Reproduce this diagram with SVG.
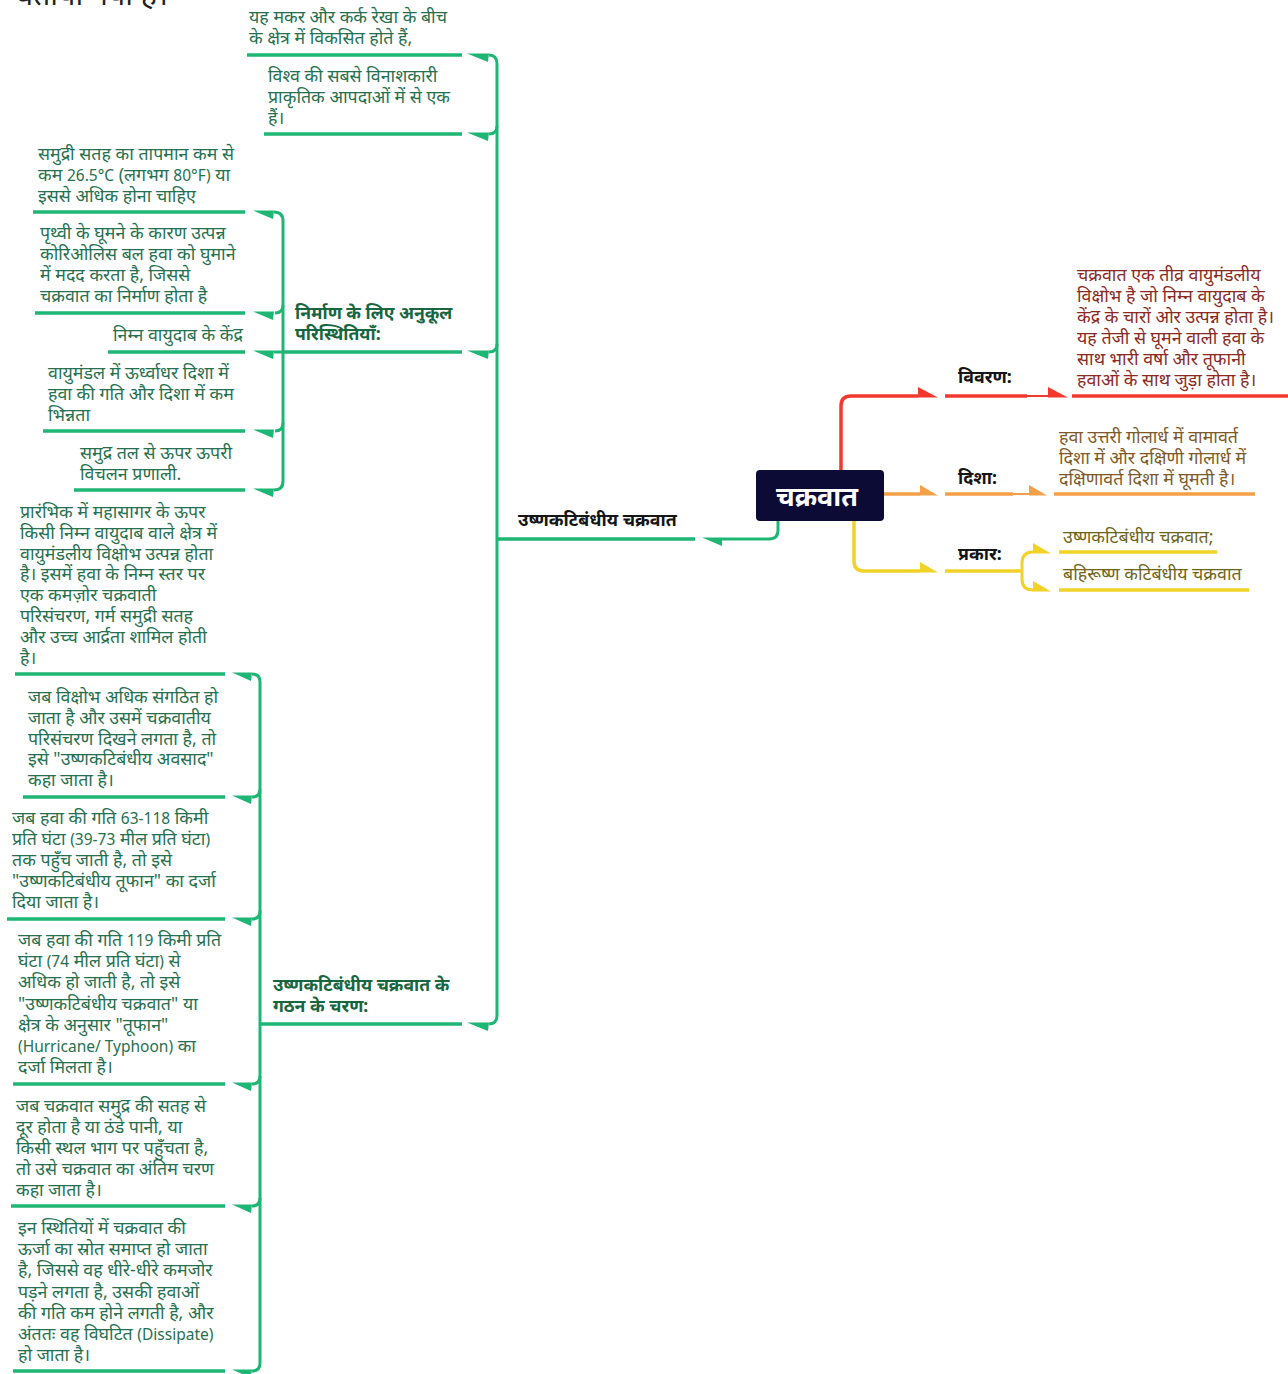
<svg xmlns="http://www.w3.org/2000/svg" width="1288" height="1374" viewBox="0 0 1288 1374">
<style>
text{font-family:"Noto Sans","Noto Sans Devanagari","Lohit Devanagari","FreeSans",sans-serif;font-size:17.8px}
.lat{font-size:15.5px}
.g{fill:#26704f}
.gb{fill:#17663f;font-weight:bold;font-size:17.6px}
.lb{fill:#151515;font-weight:bold;font-size:17.8px}
.rt{fill:#8a2a22}
.ot{fill:#7d5a28}
.yt{fill:#6e6418}
.gl{stroke:#1eb675;stroke-width:3.5;fill:none;stroke-linecap:butt}
.gc{stroke:#1eb675;stroke-width:3;fill:none}
.ga{fill:#1eb675}
.rl{stroke:#f2392f;stroke-width:3.5;fill:none}
.ra{fill:#f2392f}
.ol{stroke:#f4a048;stroke-width:3.5;fill:none}
.oa{fill:#f4a048}
.yl{stroke:#f1d226;stroke-width:3.5;fill:none}
.ya{fill:#f1d226}
</style>
<text x="16" y="5" style="font-size:30px;fill:#222">बताया गया है।</text>
<g id="connectors">
<path class="gc" d="M778 521 L778 530 Q778 539 769 539 L722 539"/>
<polygon class="ga" points="702,537.5 722,537.5 722,546"/>
<path class="gc" d="M489 55 Q497 55 497 64 L497 1015 Q497 1024 489 1024"/>
<path class="gc" d="M497 126 Q497 134 489 134"/>
<path class="gc" d="M497 344 Q497 352 489 352"/>
<polygon class="ga" points="467,53.5 489,53.5 488,62"/>
<polygon class="ga" points="467,132.5 489,132.5 488,141"/>
<polygon class="ga" points="467,350.5 489,350.5 488,359"/>
<polygon class="ga" points="467,1022.5 489,1022.5 488,1031"/>
<path class="gc" d="M274 212 Q283 212 283 221 L283 481 Q283 490 274 490"/>
<path class="gc" d="M283 305 Q283 313 275 313"/>
<path class="gc" d="M283 423 Q283 431 275 431"/>
<path class="gc" d="M274 352 L283 352"/>
<polygon class="ga" points="253,210.5 274,210.5 273,219"/>
<polygon class="ga" points="253,311.5 274,311.5 273,320"/>
<polygon class="ga" points="253,350.5 274,350.5 273,359"/>
<polygon class="ga" points="253,429.5 274,429.5 273,438"/>
<polygon class="ga" points="253,488.5 274,488.5 273,497"/>
<path class="gc" d="M252 674 Q260 674 260 682 L260 1363 Q260 1371 252 1371"/>
<path class="gc" d="M260 789 Q260 797 252 797"/>
<path class="gc" d="M260 911 Q260 919 252 919"/>
<path class="gc" d="M260 1076 Q260 1084 252 1084"/>
<path class="gc" d="M260 1198 Q260 1206 252 1206"/>
<polygon class="ga" points="232,672.5 252,672.5 251,681"/>
<polygon class="ga" points="232,795.5 252,795.5 251,804"/>
<polygon class="ga" points="232,917.5 252,917.5 251,926"/>
<polygon class="ga" points="232,1082.5 252,1082.5 251,1091"/>
<polygon class="ga" points="232,1204.5 252,1204.5 251,1213"/>
<polygon class="ga" points="232,1369.5 252,1369.5 251,1378"/>
<path class="rl" d="M841 470 L841 406 Q841 396 851 396 L918 396"/>
<polygon class="ra" points="918,387 938,397.5 918,397.5"/>
<path class="rl" d="M1027 396 L1048 396" style="stroke-width:2"/>
<polygon class="ra" points="1048,387 1068,397.5 1048,397.5"/>
<path class="ol" d="M884 494 L920 494"/>
<polygon class="oa" points="920,485 938,495.5 920,495.5"/>
<path class="ol" d="M1013 494 L1029 494" style="stroke-width:2"/>
<polygon class="oa" points="1029,485 1047,495.5 1029,495.5"/>
<path class="yl" d="M854 521 L854 561 Q854 571 864 571 L920 571"/>
<polygon class="ya" points="920,562 938,572.5 920,572.5"/>
<path class="yl" d="M1020 571 L1022 571 M1033 552 Q1022 552 1022 563 L1022 579 Q1022 590 1033 590" style="stroke-width:3"/>
<polygon class="ya" points="1033,543 1051,553.5 1033,553.5"/>
<polygon class="ya" points="1033,581 1051,591.5 1033,591.5"/>
</g>
<g id="root">
<rect x="756" y="470" width="128" height="51" rx="4" fill="#0b0b35"/>
<text x="817" y="506" text-anchor="middle" style="fill:#fff;font-weight:bold;font-size:27px">चक्रवात</text>
</g>
<g id="n-vivaran">
<path class="rl" d="M945 396 L1027 396"/>
<text class="lb" x="958" y="383">विवरण:</text>
</g>
<g id="n-vivaran-text">
<path class="rl" d="M1072 396 L1288 396"/>
<text class="rt" x="1077" y="281">चक्रवात एक तीव्र वायुमंडलीय<tspan x="1077" dy="21">विक्षोभ है जो निम्न वायुदाब के</tspan><tspan x="1077" dy="21">केंद्र के चारों ओर उत्पन्न होता है।</tspan><tspan x="1077" dy="21">यह तेजी से घूमने वाली हवा के</tspan><tspan x="1077" dy="21">साथ भारी वर्षा और तूफानी</tspan><tspan x="1077" dy="21">हवाओं के साथ जुड़ा होता है।</tspan></text>
</g>
<g id="n-disha">
<path class="ol" d="M945 494 L1013 494"/>
<text class="lb" x="958" y="484">दिशा:</text>
</g>
<g id="n-disha-text">
<path class="ol" d="M1054 494 L1255 494"/>
<text class="ot" x="1059" y="443">हवा उत्तरी गोलार्ध में वामावर्त<tspan x="1059" dy="21">दिशा में और दक्षिणी गोलार्ध में</tspan><tspan x="1059" dy="21">दक्षिणावर्त दिशा में घूमती है।</tspan></text>
</g>
<g id="n-prakar">
<path class="yl" d="M945 571 L1020 571"/>
<text class="lb" x="958" y="560">प्रकार:</text>
</g>
<g id="n-prakar-1">
<path class="yl" d="M1059 552 L1217 552"/>
<text class="yt" x="1063" y="543">उष्णकटिबंधीय चक्रवात;</text>
</g>
<g id="n-prakar-2">
<path class="yl" d="M1059 590 L1249 590"/>
<text class="yt" x="1063" y="580">बहिरूष्ण कटिबंधीय चक्रवात</text>
</g>
<g id="n-tropical">
<path class="gl" d="M497 539 L695 539"/>
<text class="lb" x="518" y="526">उष्णकटिबंधीय चक्रवात</text>
</g>
<g id="n-t1">
<path class="gl" d="M247 55 L462 55"/>
<text class="g" x="249" y="23">यह मकर और कर्क रेखा के बीच<tspan x="249" dy="21">के क्षेत्र में विकसित होते हैं,</tspan></text>
</g>
<g id="n-t2">
<path class="gl" d="M264 134 L462 134"/>
<text class="g" x="268" y="82">विश्व की सबसे विनाशकारी<tspan x="268" dy="21">प्राकृतिक आपदाओं में से एक</tspan><tspan x="268" dy="21">हैं।</tspan></text>
</g>
<g id="n-conditions">
<path class="gl" d="M283 352 L462 352"/>
<text class="gb" x="295" y="319">निर्माण के लिए अनुकूल<tspan x="295" dy="21">परिस्थितियाँ:</tspan></text>
</g>
<g id="n-c1">
<path class="gl" d="M33 212 L245 212"/>
<text class="g" x="38" y="160">समुद्री सतह का तापमान कम से<tspan x="38" dy="21">कम <tspan class="lat">26.5°C</tspan> (लगभग <tspan class="lat">80°F)</tspan> या</tspan><tspan x="38" dy="21">इससे अधिक होना चाहिए</tspan></text>
</g>
<g id="n-c2">
<path class="gl" d="M35 313 L245 313"/>
<text class="g" x="40" y="239">पृथ्वी के घूमने के कारण उत्पन्न<tspan x="40" dy="21">कोरिओलिस बल हवा को घुमाने</tspan><tspan x="40" dy="21">में मदद करता है, जिससे</tspan><tspan x="40" dy="21">चक्रवात का निर्माण होता है</tspan></text>
</g>
<g id="n-c3">
<path class="gl" d="M108 352 L245 352"/>
<text class="g" x="113" y="341">निम्न वायुदाब के केंद्र</text>
</g>
<g id="n-c4">
<path class="gl" d="M43 431 L245 431"/>
<text class="g" x="48" y="379">वायुमंडल में ऊर्ध्वाधर दिशा में<tspan x="48" dy="21">हवा की गति और दिशा में कम</tspan><tspan x="48" dy="21">भिन्नता</tspan></text>
</g>
<g id="n-c5">
<path class="gl" d="M74 490 L245 490"/>
<text class="g" x="80" y="459">समुद्र तल से ऊपर ऊपरी<tspan x="80" dy="21">विचलन प्रणाली.</tspan></text>
</g>
<g id="n-stages">
<path class="gl" d="M260 1024 L462 1024"/>
<text class="gb" x="273" y="991">उष्णकटिबंधीय चक्रवात के<tspan x="273" dy="21">गठन के चरण:</tspan></text>
</g>
<g id="n-s1">
<path class="gl" d="M15 674 L225 674"/>
<text class="g" x="20" y="518">प्रारंभिक में महासागर के ऊपर<tspan x="20" dy="20.8">किसी निम्न वायुदाब वाले क्षेत्र में</tspan><tspan x="20" dy="20.8">वायुमंडलीय विक्षोभ उत्पन्न होता</tspan><tspan x="20" dy="20.8">है। इसमें हवा के निम्न स्तर पर</tspan><tspan x="20" dy="20.8">एक कमज़ोर चक्रवाती</tspan><tspan x="20" dy="20.8">परिसंचरण, गर्म समुद्री सतह</tspan><tspan x="20" dy="20.8">और उच्च आर्द्रता शामिल होती</tspan><tspan x="20" dy="20.8">है।</tspan></text>
</g>
<g id="n-s2">
<path class="gl" d="M23 797 L225 797"/>
<text class="g" x="28" y="703">जब विक्षोभ अधिक संगठित हो<tspan x="28" dy="20.8">जाता है और उसमें चक्रवातीय</tspan><tspan x="28" dy="20.8">परिसंचरण दिखने लगता है, तो</tspan><tspan x="28" dy="20.8">इसे "उष्णकटिबंधीय अवसाद"</tspan><tspan x="28" dy="20.8">कहा जाता है।</tspan></text>
</g>
<g id="n-s3">
<path class="gl" d="M7 919 L225 919"/>
<text class="g" x="12" y="824">जब हवा की गति <tspan class="lat">63-118</tspan> किमी<tspan x="12" dy="21">प्रति घंटा <tspan class="lat">(39-73</tspan> मील प्रति घंटा<tspan class="lat">)</tspan></tspan><tspan x="12" dy="21">तक पहुँच जाती है, तो इसे</tspan><tspan x="12" dy="21">"उष्णकटिबंधीय तूफान" का दर्जा</tspan><tspan x="12" dy="21">दिया जाता है।</tspan></text>
</g>
<g id="n-s4">
<path class="gl" d="M13 1084 L225 1084"/>
<text class="g" x="18" y="946">जब हवा की गति <tspan class="lat">119</tspan> किमी प्रति<tspan x="18" dy="21.2">घंटा <tspan class="lat">(74</tspan> मील प्रति घंटा<tspan class="lat">)</tspan> से</tspan><tspan x="18" dy="21.2">अधिक हो जाती है, तो इसे</tspan><tspan x="18" dy="21.2">"उष्णकटिबंधीय चक्रवात" या</tspan><tspan x="18" dy="21.2">क्षेत्र के अनुसार "तूफान"</tspan><tspan x="18" dy="21.2"><tspan class="lat">(Hurricane/ Typhoon)</tspan> का</tspan><tspan x="18" dy="21.2">दर्जा मिलता है।</tspan></text>
</g>
<g id="n-s5">
<path class="gl" d="M11 1206 L225 1206"/>
<text class="g" x="16" y="1112">जब चक्रवात समुद्र की सतह से<tspan x="16" dy="21">दूर होता है या ठंडे पानी, या</tspan><tspan x="16" dy="21">किसी स्थल भाग पर पहुँचता है,</tspan><tspan x="16" dy="21">तो उसे चक्रवात का अंतिम चरण</tspan><tspan x="16" dy="21">कहा जाता है।</tspan></text>
</g>
<g id="n-s6">
<path class="gl" d="M13 1371 L225 1371"/>
<text class="g" x="18" y="1234">इन स्थितियों में चक्रवात की<tspan x="18" dy="21.2">ऊर्जा का स्रोत समाप्त हो जाता</tspan><tspan x="18" dy="21.2">है, जिससे वह धीरे-धीरे कमजोर</tspan><tspan x="18" dy="21.2">पड़ने लगता है, उसकी हवाओं</tspan><tspan x="18" dy="21.2">की गति कम होने लगती है, और</tspan><tspan x="18" dy="21.2">अंततः वह विघटित <tspan class="lat">(Dissipate)</tspan></tspan><tspan x="18" dy="21.2">हो जाता है।</tspan></text>
</g>
</svg>
